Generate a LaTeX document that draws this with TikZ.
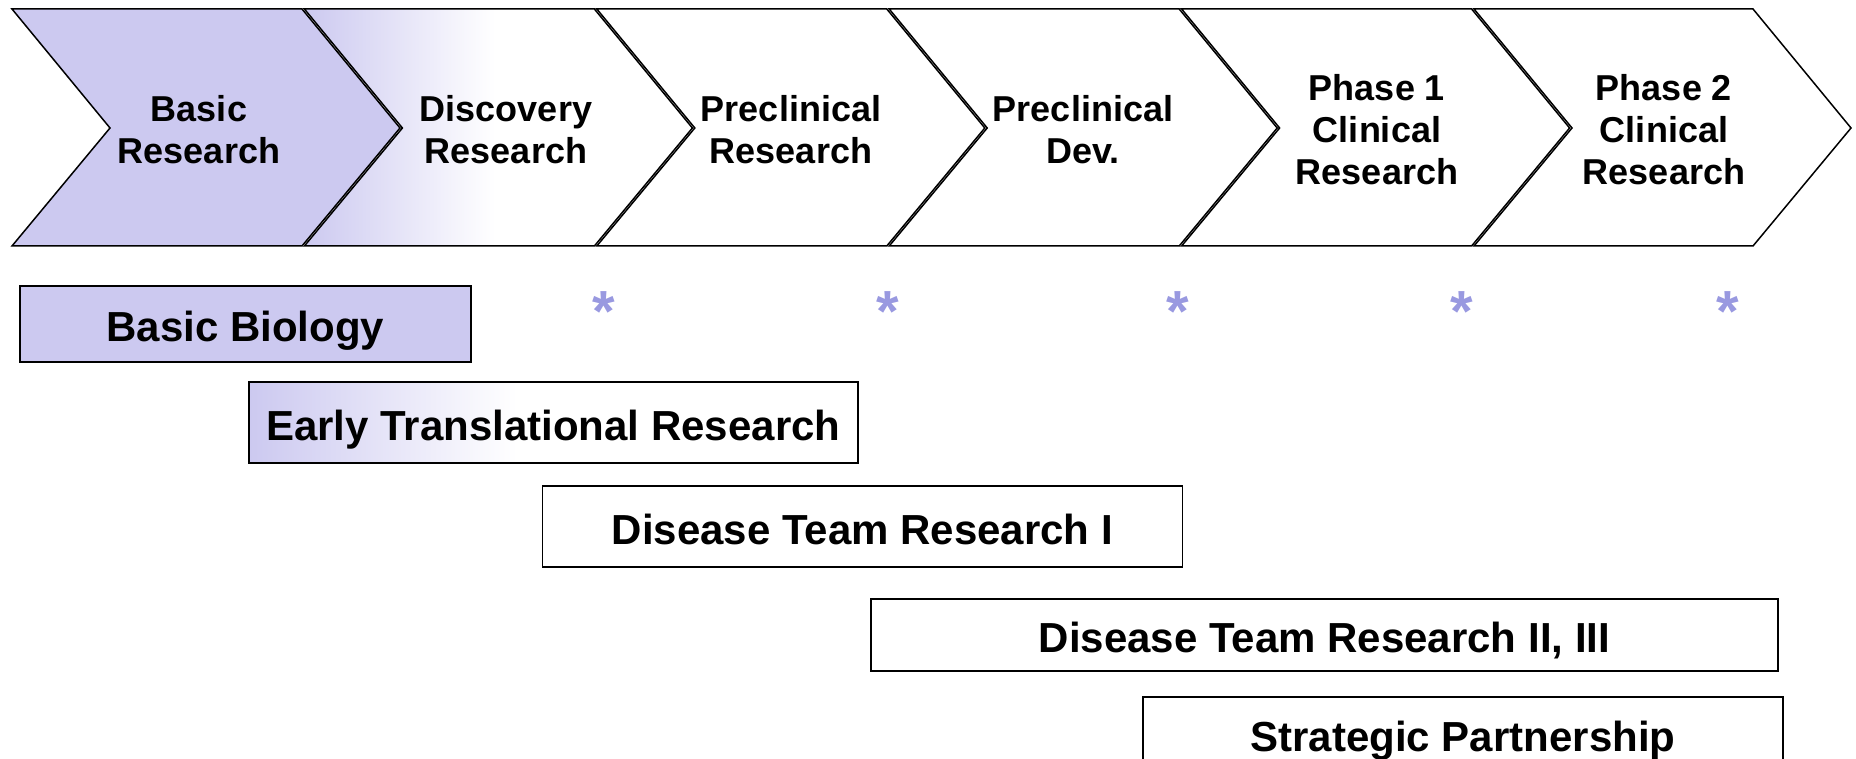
\documentclass[tikz,border=0pt]{standalone}
\usepackage{fontspec}
\setmainfont{Liberation Sans}
\definecolor{lavender}{RGB}{204,201,240}
\definecolor{starblue}{RGB}{153,153,224}

\tikzset{every picture/.style={line width=1.5pt}}
\tikzset{
  phase/.style={anchor=center, inner sep=0.75pt, align=center, font=\fontsize{36}{42}\selectfont\bfseries},
  bar/.style={draw, line width=1.8pt, inner sep=0pt, text height=35pt, text depth=0pt, font=\fontsize{42}{48}\selectfont\bfseries},
  star/.style={anchor=base, inner sep=0pt, text=starblue, font=\fontsize{58}{58}\selectfont\bfseries}
}

\begin{document}
\begin{tikzpicture}[x=1pt,y=1pt,yscale=-1,xscale=1]
    %set diagram to 1856 x 759
    \useasboundingbox (0,0) rectangle (1856,759);
    \clip (0,0) rectangle (1856,759);

    %Shape: Chevron basic research
    \draw [fill=lavender] (12,9) -- (302,9) -- (400,128) -- (302,246) -- (12,246) -- (110,128) -- cycle ;
    %Shape: Chevron discovery research (fading)
    \begin{scope}
      \clip (304.4,9) -- (594.4,9) -- (692.4,128) -- (594.4,246) -- (304.4,246) -- (402.4,128) -- cycle ;
      \shade [left color=lavender, right color=white] (304,9) rectangle (495,246) ;
    \end{scope}
    \draw (304.4,9) -- (594.4,9) -- (692.4,128) -- (594.4,246) -- (304.4,246) -- (402.4,128) -- cycle ;
    %Shape: Chevron preclinical research
    \draw (596.8,9) -- (886.8,9) -- (984.8,128) -- (886.8,246) -- (596.8,246) -- (694.8,128) -- cycle ;
    %Shape: Chevron preclinical dev
    \draw (889.2,9) -- (1179.2,9) -- (1277.2,128) -- (1179.2,246) -- (889.2,246) -- (987.2,128) -- cycle ;
    %Shape: Chevron phase 1
    \draw (1181.6,9) -- (1471.6,9) -- (1569.6,128) -- (1471.6,246) -- (1181.6,246) -- (1279.6,128) -- cycle ;
    %Shape: Chevron phase 2
    \draw (1474,9) -- (1753,9) -- (1851,128) -- (1753,246) -- (1474,246) -- (1572,128) -- cycle ;

    % Text Node
    \draw (199,130) node [phase] (basic) {Basic\\Research};
    % Text Node
    \draw (506,130) node [phase] (discovery) {Discovery\\Research};
    % Text Node
    \draw (791,130) node [phase] (preclin) {Preclinical\\Research};
    % Text Node
    \draw (1083,130) node [phase] (precldev) {Preclinical\\Dev.};
    % Text Node
    \draw (1377,130) node [phase] (phaseone) {Phase 1\\Clinical\\Research};
    % Text Node
    \draw (1664,130) node [phase] (phasetwo) {Phase 2\\Clinical\\Research};

    % Stars
    \draw (604,332) node [star] (sa) {*};
    \draw (888,332) node [star] (sb) {*};
    \draw (1178,332) node [star] (sc) {*};
    \draw (1462,332) node [star] (sd) {*};
    \draw (1728,332) node [star] (se) {*};

    %Shape: Rectangle basic biology
    \draw (245.5,324) node [bar, fill=lavender, minimum width=451pt, minimum height=76pt] (biology) {Basic Biology};
    %Shape: Rectangle early translational (fading)
    \shade [left color=lavender, right color=white] (249,382) rectangle (517,463) ;
    \draw (553.3,422.5) node [bar, minimum width=609.4pt, minimum height=81pt] (early) {Early Translational Research};
    %Shape: Rectangle disease team I
    \draw (862.5,526.5) node [bar, minimum width=640pt, minimum height=81pt] (teamone) {Disease Team Research I};
    %Shape: Rectangle disease team II, III
    \draw (1324.5,635) node [bar, minimum width=907pt, minimum height=72pt] (teamtwo) {Disease Team Research II, III};
    %Shape: Rectangle strategic partnership
    \draw (1463,734) node [bar, minimum width=640pt, minimum height=74pt] (partner) {Strategic Partnership};

\end{tikzpicture}
\end{document}
